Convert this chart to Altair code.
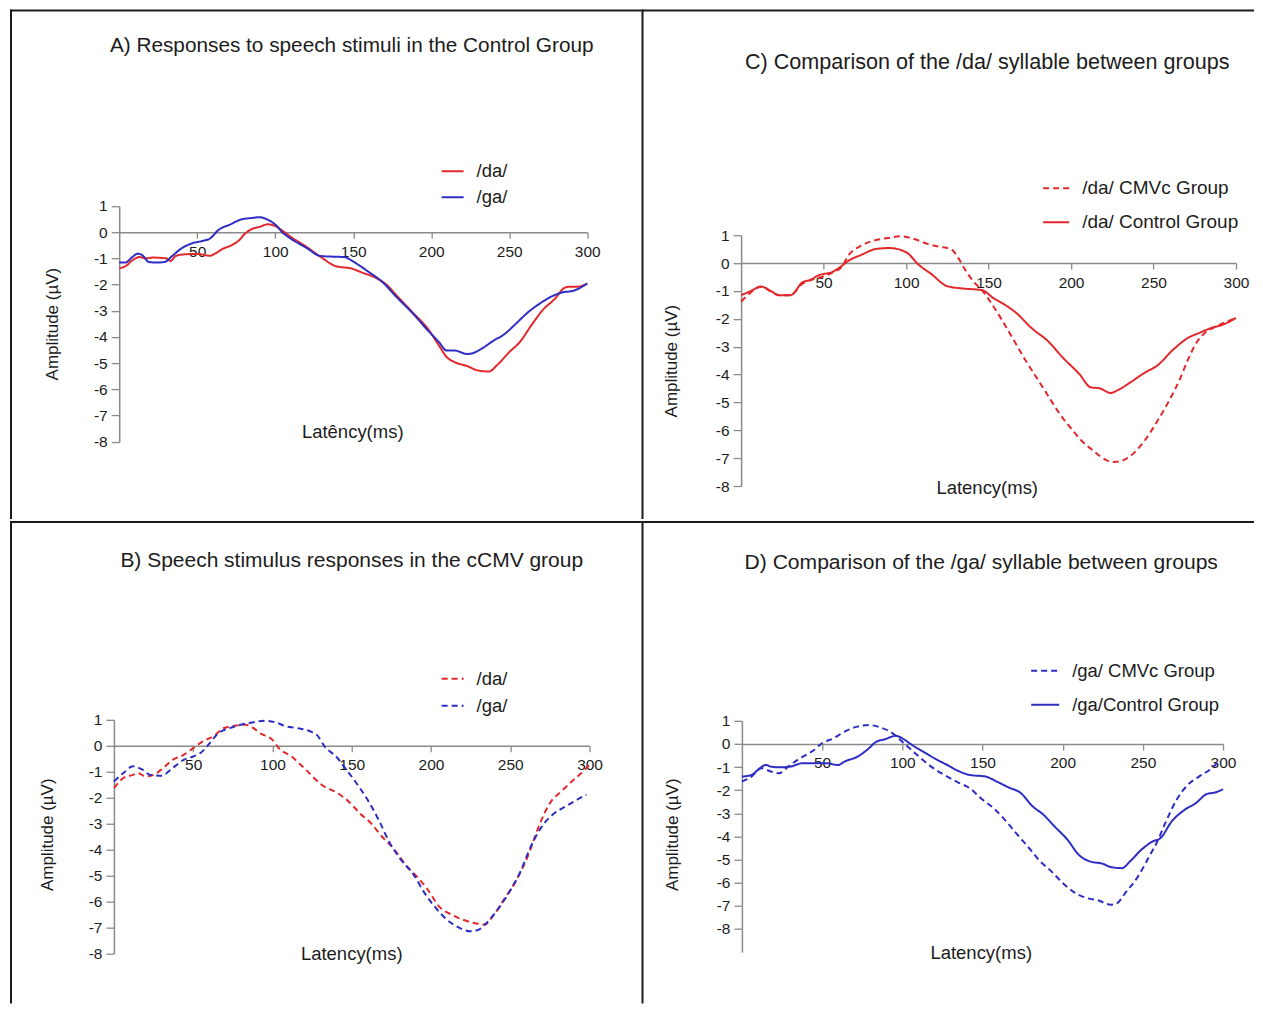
import altair as alt
import pandas as pd

FONT = "Liberation Sans"
RED = "#e3282c"
BLUE = "#2d2dc4"
AXC = "#8a8a8a"
TXT = "#1c1c1c"
SOLID = [1, 0]
DASH = [6, 4]

# ---------------- data: latency (ms) / amplitude (µV) ----------------
# A) Control group
A_DA_T = [0, 4, 9, 13, 17, 22, 26, 30, 33, 36, 41, 50, 58, 62, 66, 73, 77, 80, 85, 90,
          95, 100, 105, 110, 120, 129, 139, 149, 156, 164, 171, 178, 188, 198, 205, 210, 215, 223, 230, 237,
          242, 250, 257, 264, 272, 279, 286, 290, 294, 300]
A_DA_V = [-1.38, -1.3, -1.05, -0.95, -1.0, -0.97, -0.98, -1.0, -1.1, -0.92, -0.85, -0.83, -0.9, -0.8, -0.65, -0.47, -0.3, -0.1, 0.12, 0.2,
          0.3, 0.23, 0.04, -0.18, -0.56, -0.94, -1.3, -1.39, -1.55, -1.73, -1.99, -2.43, -3.06, -3.7, -4.33, -4.77, -4.96, -5.11, -5.28, -5.32,
          -5.09, -4.58, -4.18, -3.57, -2.94, -2.56, -2.11, -2.08, -2.08, -1.96]
A_GA_T = [0, 4, 8, 12, 15, 19, 24, 29, 34, 39, 46, 53, 58, 64, 71, 78, 85, 90, 95, 100,
          105, 110, 120, 129, 139, 144, 151, 159, 169, 178, 188, 198, 205, 210, 215, 223, 227, 232, 240, 247,
          254, 262, 269, 276, 284, 291, 300]
A_GA_V = [-1.16, -1.16, -0.97, -0.82, -0.89, -1.14, -1.16, -1.14, -0.91, -0.66, -0.44, -0.34, -0.25, 0.1, 0.29, 0.48, 0.54, 0.57, 0.48, 0.29,
          -0.03, -0.25, -0.6, -0.91, -0.94, -0.95, -1.16, -1.48, -1.92, -2.49, -3.09, -3.76, -4.2, -4.52, -4.52, -4.65, -4.61, -4.46, -4.14, -3.89,
          -3.51, -3.06, -2.75, -2.49, -2.3, -2.24, -1.96]

# C) /da/ between groups
C_CMV_T = [0, 4, 12, 23, 30, 37, 42, 49, 56, 61, 65, 73, 80, 89, 96, 103, 108, 113, 120, 127,
           132, 136, 141, 146, 151, 158, 165, 172, 179, 186, 193, 200, 207, 214, 221, 226, 231, 238, 245, 252,
           259, 266, 271, 276, 280, 288, 295, 300]
C_CMV_V = [-1.38, -1.15, -0.86, -1.15, -1.15, -0.75, -0.62, -0.5, -0.32, -0.14, 0.27, 0.63, 0.8, 0.9, 0.96, 0.9, 0.8, 0.69, 0.59, 0.51,
           0.15, -0.26, -0.67, -0.97, -1.38, -2.03, -2.74, -3.45, -4.1, -4.75, -5.4, -5.93, -6.41, -6.76, -7.06, -7.14, -7.09, -6.82, -6.34, -5.7,
           -4.99, -4.16, -3.45, -2.86, -2.57, -2.27, -2.09, -1.97]
C_CTL_T = [0, 6, 12, 18, 23, 30, 37, 42, 47, 56, 61, 65, 73, 82, 90, 100, 108, 115, 125, 134,
           146, 153, 160, 167, 176, 186, 195, 205, 212, 217, 224, 228, 236, 245, 252, 262, 271, 278, 285, 292,
           300]
C_CTL_V = [-1.15, -1.0, -0.84, -1.0, -1.15, -1.15, -0.7, -0.6, -0.44, -0.3, -0.1, 0.08, 0.3, 0.51, 0.54, 0.39, -0.08, -0.38, -0.83, -0.91,
           -0.97, -1.26, -1.5, -1.8, -2.33, -2.8, -3.39, -3.98, -4.46, -4.49, -4.66, -4.57, -4.28, -3.92, -3.69, -3.1, -2.68, -2.5, -2.33, -2.21,
           -1.97]

# B) cCMV group
B_DA_T = [0, 6, 12, 15, 20, 25, 31, 37, 44, 50, 56, 64, 68, 76, 83, 88, 92, 100, 104, 112,
          121, 131, 141, 148, 155, 162, 169, 177, 184, 191, 198, 205, 213, 220, 227, 234, 239, 246, 254, 261,
          268, 275, 282, 290, 297, 300]
B_DA_V = [-1.63, -1.24, -1.12, -1.05, -1.18, -1.12, -0.86, -0.54, -0.35, -0.09, 0.17, 0.42, 0.64, 0.77, 0.81, 0.68, 0.49, 0.23, -0.09, -0.41,
          -0.92, -1.5, -1.82, -2.14, -2.59, -2.97, -3.49, -4.0, -4.58, -5.03, -5.54, -6.18, -6.5, -6.69, -6.82, -6.88, -6.56, -5.92, -5.15, -4.26,
          -3.1, -2.21, -1.76, -1.31, -0.92, -0.73]
B_GA_T = [0, 6, 12, 18, 23, 30, 37, 44, 50, 55, 59, 66, 73, 80, 88, 95, 102, 109, 116, 124,
          128, 133, 141, 145, 153, 160, 167, 174, 181, 189, 196, 203, 210, 218, 225, 230, 234, 242, 249, 256,
          263, 270, 278, 285, 292, 298]
B_GA_V = [-1.37, -1.05, -0.79, -0.92, -1.12, -1.15, -0.86, -0.54, -0.41, -0.26, 0.0, 0.49, 0.68, 0.81, 0.91, 0.96, 0.9, 0.74, 0.68, 0.55,
          0.42, -0.03, -0.47, -0.79, -1.44, -2.08, -2.85, -3.74, -4.38, -4.96, -5.67, -6.24, -6.69, -7.01, -7.14, -7.08, -6.88, -6.31, -5.67, -4.9,
          -3.87, -3.1, -2.59, -2.33, -2.08, -1.88]

# D) /ga/ between groups
D_CMV_T = [0, 6, 12, 18, 23, 30, 38, 45, 50, 57, 64, 72, 79, 86, 94, 101, 108, 118, 128, 135,
           142, 149, 157, 164, 171, 179, 186, 193, 200, 208, 215, 222, 230, 234, 239, 247, 254, 259, 264, 271,
           278, 285, 293, 298]
D_CMV_V = [-1.63, -1.41, -1.05, -1.19, -1.27, -0.91, -0.55, -0.26, 0.03, 0.24, 0.53, 0.75, 0.82, 0.72, 0.46, 0.03, -0.4, -0.98, -1.41, -1.67,
           -1.91, -2.35, -2.78, -3.28, -3.86, -4.5, -5.08, -5.51, -6.01, -6.45, -6.66, -6.76, -6.95, -6.88, -6.45, -5.73, -4.86, -4.22, -3.42, -2.42,
           -1.77, -1.41, -1.05, -0.69]
D_CTL_T = [0, 6, 10, 15, 18, 23, 30, 38, 45, 52, 60, 64, 72, 78, 84, 89, 96, 101, 106, 113,
           120, 128, 135, 142, 152, 159, 166, 174, 181, 188, 195, 203, 210, 217, 225, 230, 237, 242, 249, 256,
           261, 268, 276, 283, 290, 295, 300]
D_CTL_V = [-1.41, -1.34, -1.12, -0.91, -0.98, -1.01, -0.98, -0.83, -0.83, -0.83, -0.91, -0.76, -0.55, -0.26, 0.1, 0.2, 0.35, 0.2, -0.04, -0.33,
           -0.62, -0.91, -1.17, -1.34, -1.41, -1.63, -1.87, -2.13, -2.68, -3.06, -3.57, -4.14, -4.79, -5.08, -5.18, -5.32, -5.37, -5.08, -4.58, -4.22,
           -4.07, -3.35, -2.85, -2.56, -2.16, -2.1, -1.96]

X_TICKS = [50, 100, 150, 200, 250, 300]
Y_TICKS = [-8, -7, -6, -5, -4, -3, -2, -1, 0, 1]
HYPHEN_LABEL = "datum.value < 0 ? '-' + abs(datum.value) : '' + datum.value"

ONE = pd.DataFrame({"k": [0]})


def text_layer(txt, x, y, size, angle=0):
    return alt.Chart(ONE).mark_text(
        text=txt, font=FONT, fontSize=size, color=TXT, align="center",
        baseline="middle", angle=angle
    ).encode(x=alt.value(x), y=alt.value(y))


def panel(series, ox, oy, W, H, x0p, x300p, y1p, y8p, ybottom,
          title, title_c, title_size, xlabel, xlabel_c, ylabel_c,
          leg_left, leg_top, sym_len, row_pad, leg_font):
    unit = (y8p - y1p) / 9.0
    zero_p = y1p + unit
    ybot_p = y1p + (1 - ybottom) * unit
    rows, names, colors, dashes = [], [], [], []
    for name, ts, vs, col, dash in series:
        names.append(name)
        colors.append(col)
        dashes.append(dash)
        rows += [{"series": name, "t": t, "v": v} for t, v in zip(ts, vs)]
    data = pd.DataFrame(rows)
    leg = alt.Legend(
        orient="none", legendX=leg_left - ox, legendY=leg_top - oy,
        title=None, symbolType="stroke", symbolSize=sym_len * sym_len, symbolStrokeWidth=2,
        labelFont=FONT, labelFontSize=leg_font, labelColor=TXT, labelOffset=12, labelLimit=400,
        rowPadding=row_pad, padding=0
    )
    lines = alt.Chart(data).mark_line(strokeWidth=2, interpolate="monotone").encode(
        x=alt.X("t:Q",
                scale=alt.Scale(domain=[0, 300], range=[x0p - ox, x300p - ox], nice=False, zero=False),
                axis=alt.Axis(orient="bottom", offset=(zero_p - oy) - H, values=X_TICKS, title=None,
                              grid=False, domainColor=AXC, domainWidth=1.5, tickColor=AXC, tickWidth=1.3,
                              tickSize=6, labelPadding=6, labelFont=FONT, labelFontSize=15.5, labelColor=TXT,
                              labelFlush=False, labelOverlap=False, labelAngle=0)),
        y=alt.Y("v:Q",
                scale=alt.Scale(domain=[ybottom, 1], range=[ybot_p - oy, y1p - oy], nice=False, zero=False),
                axis=alt.Axis(orient="left", offset=-(x0p - ox), values=Y_TICKS, title=None,
                              grid=False, domainColor=AXC, domainWidth=1.5, tickColor=AXC, tickWidth=1.3,
                              tickSize=8, labelPadding=4, labelFont=FONT, labelFontSize=15.5, labelColor=TXT,
                              labelFlush=False, labelOverlap=False, labelExpr=HYPHEN_LABEL)),
        color=alt.Color("series:N", scale=alt.Scale(domain=names, range=colors), legend=leg),
        strokeDash=alt.StrokeDash("series:N", scale=alt.Scale(domain=names, range=dashes), legend=leg),
    )
    # quadrant frame (drawn 1px inside so the cell bounds stay exact)
    border_left = alt.Chart(ONE).mark_rule(color="#1a1a1a", strokeWidth=2).encode(
        x=alt.value(1), y=alt.value(0), y2=alt.value(H))
    border_top = alt.Chart(ONE).mark_rule(color="#1a1a1a", strokeWidth=2).encode(
        x=alt.value(0), x2=alt.value(W), y=alt.value(1))
    layers = [
        border_left, border_top, lines,
        text_layer(title, title_c[0] - ox, title_c[1] - oy, title_size),
        text_layer(xlabel, xlabel_c[0] - ox, xlabel_c[1] - oy, 18.5),
        text_layer("Amplitude (µV)", ylabel_c[0] - ox, ylabel_c[1] - oy, 17, angle=270),
    ]
    return alt.layer(*layers).properties(width=W, height=H)


PAD_L, PAD_T = 1, 0
WL, WR, HT, HB = 632, 613, 510, 483
OXL, OYT = 8 + PAD_L, 8 + PAD_T + 2      # measured page origin of the top row
OXR, OYB = OXL + WL, OYT + HT + 1        # measured page origin of the bottom row

pA = panel([("/da/", A_DA_T, A_DA_V, RED, SOLID), ("/ga/", A_GA_T, A_GA_V, BLUE, SOLID)],
           OXL, OYT, WL, HT, 118.3, 586.7, 206.7, 442.7, -8,
           "A) Responses to speech stimuli in the Control Group", (351, 47), 20.8,
           "Latêncy(ms)", (352, 433), (52, 325), 440, 160, 22, 4, 18.5)
pC = panel([("/da/ CMVc Group", C_CMV_T, C_CMV_V, RED, DASH), ("/da/ Control Group", C_CTL_T, C_CTL_V, RED, SOLID)],
           OXR, OYT, WR, HT, 740.7, 1236, 236, 487, -8,
           "C) Comparison of the /da/ syllable between groups", (987, 64), 21.6,
           "Latency(ms)", (987, 489), (672, 362), 1042, 175, 26, 10, 19)
pB = panel([("/da/", B_DA_T, B_DA_V, RED, DASH), ("/ga/", B_GA_T, B_GA_V, BLUE, DASH)],
           OXL, OYB, WL, HB, 113, 589, 720, 954, -8,
           "B) Speech stimulus responses in the cCMV group", (351, 561.5), 21,
           "Latency(ms)", (351, 954.5), (47, 835), 440, 667, 22, 5, 18.5)
pD = panel([("/ga/ CMVc Group", D_CMV_T, D_CMV_V, BLUE, DASH), ("/ga/Control Group", D_CTL_T, D_CTL_V, BLUE, SOLID)],
           OXR, OYB, WR, HB, 741.5, 1223, 721, 929.3, -9,
           "D) Comparison of the /ga/ syllable between groups", (981, 563.5), 21.1,
           "Latency(ms)", (981, 953.5), (673, 835), 1030, 656, 28, 9, 18.5)

RES = dict(x="independent", y="independent", color="independent", strokeDash="independent")
top = alt.hconcat(pA, pC, spacing=0, bounds="flush").resolve_scale(**RES).resolve_legend(
    color="independent", strokeDash="independent")
bot = alt.hconcat(pB, pD, spacing=0, bounds="flush").resolve_scale(**RES).resolve_legend(
    color="independent", strokeDash="independent")
chart = alt.vconcat(top, bot, spacing=0).resolve_scale(**RES).resolve_legend(
    color="independent", strokeDash="independent"
).properties(
    padding={"left": PAD_L, "top": PAD_T, "right": 0, "bottom": 0}, background="white"
).configure_view(strokeWidth=0)

chart.save("out.html", embed_options={"renderer": "svg", "actions": False})
